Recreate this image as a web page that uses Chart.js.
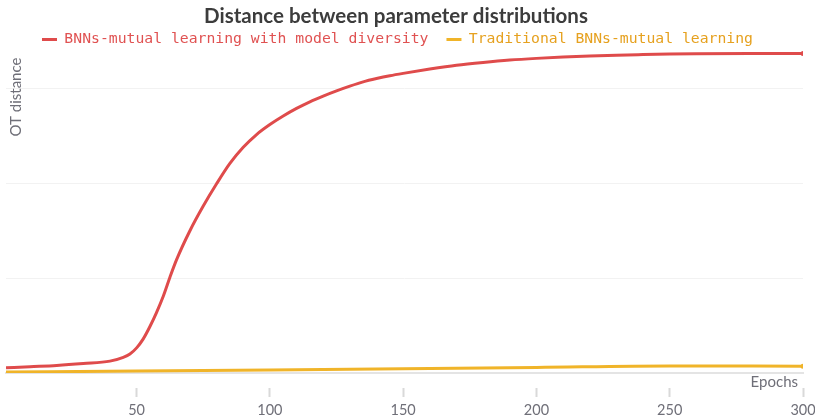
<!DOCTYPE html>
<html>
<head>
<meta charset="utf-8">
<script src="https://cdn.jsdelivr.net/npm/chart.js@4.4.1/dist/chart.umd.min.js"></script>
<style>
  html, body { margin: 0; padding: 0; background: #fff; }
  #wrap { width: 815px; height: 417px; position: relative; }
</style>
</head>
<body>
<div id="wrap"><canvas id="otChart"></canvas></div>
<script>
var diverseEpochs = [1, 10, 20, 30, 40, 45, 47.5, 50, 52.5, 55, 57.5, 60, 62.5, 65, 70, 75, 80, 85, 90, 95, 100, 105, 110, 115, 120, 125, 130, 135, 140, 145, 150, 160, 170, 180, 190, 200, 210, 220, 230, 240, 250, 260, 280, 300];
var diverseValues = [0.055, 0.067, 0.08, 0.10, 0.125, 0.165, 0.20, 0.265, 0.36, 0.49, 0.64, 0.81, 1.01, 1.195, 1.50, 1.76, 1.995, 2.21, 2.38, 2.515, 2.62, 2.71, 2.79, 2.86, 2.92, 2.975, 3.025, 3.07, 3.105, 3.135, 3.16, 3.205, 3.245, 3.275, 3.30, 3.318, 3.332, 3.343, 3.352, 3.358, 3.363, 3.366, 3.369, 3.37];

var traditionalEpochs = [1, 50, 100, 150, 200, 250, 300];
var traditionalValues = [0.01, 0.02, 0.032, 0.045, 0.059, 0.074, 0.072];

var xTicks = [50, 100, 150, 200, 250, 300];

var seriesNames = ['BNNs-mutual learning with model diversity', 'Traditional BNNs-mutual learning'];
var lineColors = ['#df4b4b', '#f0b429'];
var textColors = ['#e05252', '#e6a11f'];

function toPoints(xs, ys) {
    return xs.map(function (x, i) { return { x: x, y: ys[i] }; });
}

// only the last point of each line shows a dot
function lastDot(ctx) {
    return ctx.dataIndex === ctx.dataset.data.length - 1 ? 2.5 : 0;
}

var legendPad = 18;
var legendFont = 14.75;

// axis captions inside the plot + title/legend placement like the original
var axisCaptions = {
    id: 'axisCaptions',
    afterInit: function (chart) {
        var leg = chart.legend;
        var fit = leg.fit;
        leg.fit = function () {
            fit.call(leg);
            leg.height = 22;
        };
    },
    afterLayout: function (chart) {
        chart.titleBlock.right -= 26;
        chart.legend.right -= 23;
        chart.legend.top = 39.5 - legendPad - legendFont / 2;
    },
    afterDraw: function (chart) {
        var ctx = chart.ctx;
        var area = chart.chartArea;
        ctx.save();
        ctx.fillStyle = '#6f6f78';
        ctx.font = '15px Lato';
        ctx.textAlign = 'right';
        ctx.textBaseline = 'middle';
        ctx.fillText('Epochs', area.right - 5, area.bottom + 9);
        ctx.translate(16, 97);
        ctx.rotate(-Math.PI / 2);
        ctx.textAlign = 'center';
        ctx.fillText('OT distance', 0, 0);
        ctx.restore();
    }
};

var datasets = [
    {
        label: seriesNames[0],
        data: toPoints(diverseEpochs, diverseValues),
        borderColor: lineColors[0],
        backgroundColor: lineColors[0],
        borderWidth: 3,
        pointRadius: lastDot,
        pointBorderWidth: 0,
        cubicInterpolationMode: 'monotone'
    },
    {
        label: seriesNames[1],
        data: toPoints(traditionalEpochs, traditionalValues),
        borderColor: lineColors[1],
        backgroundColor: lineColors[1],
        borderWidth: 3,
        pointRadius: lastDot,
        pointBorderWidth: 0,
        cubicInterpolationMode: 'monotone'
    }
];

var config = {
    type: 'line',
    data: { datasets: datasets },
    plugins: [axisCaptions],
    options: {
        responsive: true,
        maintainAspectRatio: false,
        animation: false,
        layout: { padding: { left: 6, right: 3, top: 0, bottom: 0 } },
        plugins: {
            title: {
                display: true,
                text: 'Distance between parameter distributions',
                color: '#3c3c3c',
                font: { family: 'Lato', size: 20.5, weight: 'bold' },
                padding: { top: 4, bottom: 0 }
            },
            legend: {
                display: true,
                labels: {
                    font: { family: 'DejaVu Sans Mono', size: legendFont },
                    boxWidth: 15,
                    boxHeight: 3,
                    padding: legendPad,
                    generateLabels: function (chart) {
                        return Chart.defaults.plugins.legend.labels.generateLabels(chart).map(function (item, i) {
                            item.lineWidth = 0;
                            item.fontColor = textColors[i];
                            return item;
                        });
                    }
                }
            },
            tooltip: { enabled: false }
        },
        scales: {
            x: {
                type: 'linear',
                min: 1,
                max: 300,
                afterBuildTicks: function (scale) {
                    scale.ticks = xTicks.map(function (v) { return { value: v }; });
                },
                afterFit: function (scale) {
                    scale.height = 44;
                    scale.paddingLeft = 0;
                    scale.paddingRight = 12;
                },
                ticks: {
                    color: '#6f6f78',
                    font: { family: 'Lato', size: 14.5 },
                    padding: 5,
                    maxRotation: 0
                },
                grid: {
                    drawOnChartArea: false,
                    drawTicks: true,
                    tickLength: 24,
                    tickColor: '#d9d9d9',
                    tickWidth: 2,
                    tickBorderDash: [0, 14, 10, 200]
                },
                border: { display: true, color: '#e4e4e4', width: 2 }
            },
            y: {
                min: 0,
                max: 3.4,
                ticks: { display: false, stepSize: 1 },
                grid: {
                    drawTicks: false,
                    color: function (ctx) {
                        return ctx.tick && ctx.tick.value % 1 === 0 && ctx.tick.value > 0 ? '#f2f2f2' : 'rgba(0,0,0,0)';
                    }
                },
                border: { display: false },
                afterFit: function (scale) { scale.width = 0; }
            }
        }
    }
};

var myChartOT = new Chart(document.querySelector('#otChart').getContext('2d'), config);
</script>
</body>
</html>
